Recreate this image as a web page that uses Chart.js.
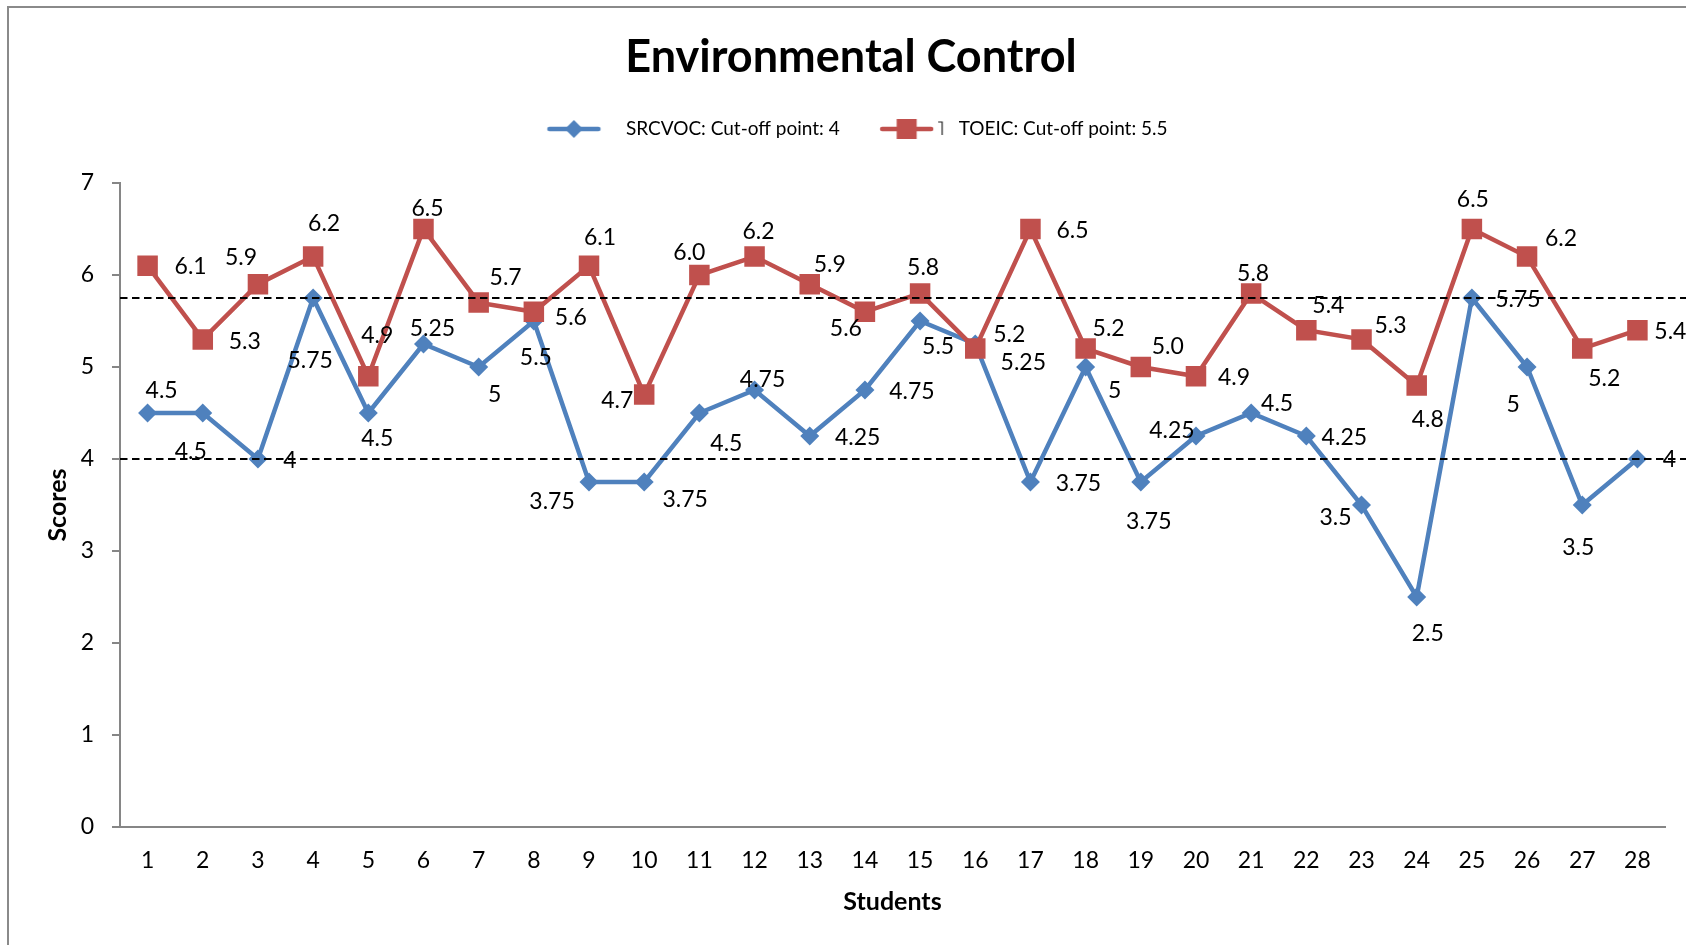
<!DOCTYPE html>
<html>
<head>
<meta charset="utf-8">
<title>Environmental Control</title>
<script src="https://cdn.jsdelivr.net/npm/chart.js@4.4.0/dist/chart.umd.min.js"></script>
<style>
  html, body { margin: 0; padding: 0; background: #fff; }
</style>
</head>
<body>
<canvas id="myChart" width="1686" height="945"></canvas>
<script>
// students 1..28 on the x axis
const students = ['1','2','3','4','5','6','7','8','9','10','11','12','13','14','15','16','17','18','19','20','21','22','23','24','25','26','27','28'];

// scores
const srcvocScores = [4.5, 4.5, 4, 5.75, 4.5, 5.25, 5, 5.5, 3.75, 3.75, 4.5, 4.75, 4.25, 4.75, 5.5, 5.25, 3.75, 5, 3.75, 4.25, 4.5, 4.25, 3.5, 2.5, 5.75, 5, 3.5, 4];
const toeicScores = [6.1, 5.3, 5.9, 6.2, 4.9, 6.5, 5.7, 5.6, 6.1, 4.7, 6.0, 6.2, 5.9, 5.6, 5.8, 5.2, 6.5, 5.2, 5.0, 4.9, 5.8, 5.4, 5.3, 4.8, 6.5, 6.2, 5.2, 5.4];

const seriesNames = ['SRCVOC: Cut-off point: 4', 'TOEIC: Cut-off point: 5.5'];
const yTicks = [0, 1, 2, 3, 4, 5, 6, 7];
// the two dashed reference lines
const cutoffLines = [5.75, 4];

// where each value label sits relative to its point (px), like the excel file
const srcvocLabelNudge = [[14,-22],[-12,39],[32,2],[-3,63],[9,26],[9,-15],[16,28],[2,37],[-37,20],[41,18],
  [27,31],[8,-10],[48,2],[47,2],[18,26],[48,19],[48,2],[29,24],[8,40],[-24,-5],
  [26,-9],[38,2],[-26,13],[11,37],[46,2],[-14,38],[-4,43],[32,1]];
const toeicLabelNudge = [[43,1],[42,2],[-17,-27],[11,-33],[9,-41],[4,-20],[27,-25],[37,6],[11,-28],[-27,6],
  [-10,-22],[4,-25],[20,-20],[-19,17],[3,-26],[34,-14],[42,2],[23,-20],[27,-20],[38,1],
  [2,-20],[22,-25],[29,-14],[11,34],[1,-29],[34,-18],[22,30],[33,1]];

const blue = '#4F81BD';
const red = '#C0504D';
const FONT = "Lato, 'Open Sans', sans-serif";

Chart.defaults.font.family = FONT;

// little line+marker picture for the legend
function legendSymbol(color, style) {
  const c = document.createElement('canvas');
  c.width = 82; c.height = 26;
  const g = c.getContext('2d');
  g.strokeStyle = color;
  g.fillStyle = color;
  g.lineWidth = 4.5;
  g.lineCap = 'round';
  g.beginPath();
  g.moveTo(15, 13);
  g.lineTo(64, 13);
  g.stroke();
  g.beginPath();
  if (style == 'rectRot') {
    g.moveTo(39.5, 4); g.lineTo(48.5, 13); g.lineTo(39.5, 22); g.lineTo(30.5, 13);
    g.closePath();
    g.fill();
  } else {
    g.fillRect(29.5, 3, 20, 20);
    // the small stray mark next to the red key
    g.strokeStyle = '#222';
    g.lineWidth = 1.2;
    g.lineCap = 'butt';
    g.beginPath();
    g.moveTo(71, 6); g.lineTo(75, 6); g.lineTo(75, 19);
    g.stroke();
  }
  return c;
}

const pageFrame = {
  id: 'pageFrame',
  beforeDraw(chart) {
    const ctx = chart.ctx;
    ctx.save();
    ctx.fillStyle = '#fff';
    ctx.fillRect(0, 0, chart.width, chart.height);
    ctx.strokeStyle = '#8a8a8a';
    ctx.lineWidth = 2;
    ctx.beginPath();
    ctx.moveTo(8, chart.height);
    ctx.lineTo(8, 7);
    ctx.lineTo(chart.width, 7);
    ctx.stroke();
    ctx.restore();
  }
};

const pointLabels = {
  id: 'pointLabels',
  afterDatasetsDraw(chart) {
    const ctx = chart.ctx;
    ctx.save();
    ctx.font = '23px ' + FONT;
    ctx.fillStyle = '#000';
    ctx.textAlign = 'center';
    ctx.textBaseline = 'middle';
    chart.data.datasets.forEach((ds, i) => {
      const meta = chart.getDatasetMeta(i);
      meta.data.forEach((pt, j) => {
        const n = ds.labelNudge[j];
        ctx.fillText(ds.labelText(ds.data[j]), pt.x + n[0], pt.y + n[1]);
      });
    });
    ctx.restore();
  }
};

const cutoffDashes = {
  id: 'cutoffDashes',
  afterDraw(chart) {
    const ctx = chart.ctx;
    const y = chart.scales.y;
    ctx.save();
    ctx.strokeStyle = '#000';
    ctx.lineWidth = 2;
    ctx.setLineDash([7.5, 4.5]);
    cutoffLines.forEach(v => {
      const py = Math.round(y.getPixelForValue(v));
      ctx.beginPath();
      ctx.moveTo(chart.chartArea.left, py);
      ctx.lineTo(chart.width, py);
      ctx.stroke();
    });
    ctx.restore();
  }
};

const ctx = document.getElementById('myChart');

new Chart(ctx, {
  type: 'line',
  data: {
    labels: students,
    datasets: [
      {
        label: seriesNames[0],
        data: srcvocScores,
        borderColor: blue,
        backgroundColor: blue,
        borderWidth: 4.5,
        pointStyle: 'rectRot',
        pointRadius: 9.5,
        pointBorderWidth: 0,
        tension: 0,
        order: 2,
        labelNudge: srcvocLabelNudge,
        labelText: v => String(v)
      },
      {
        label: seriesNames[1],
        data: toeicScores,
        borderColor: red,
        backgroundColor: red,
        borderWidth: 4.5,
        pointStyle: 'rect',
        pointRadius: 14.5,
        pointBorderWidth: 0,
        tension: 0,
        order: 1,
        labelNudge: toeicLabelNudge,
        labelText: v => v.toFixed(1)
      }
    ]
  },
  options: {
    responsive: false,
    animation: false,
    layout: { padding: { left: 37, right: 21, top: 0, bottom: 0 } },
    plugins: {
      title: {
        display: true,
        text: 'Environmental Control',
        color: '#000',
        font: { size: 45, weight: 'bold' },
        padding: { top: 30, bottom: 8 }
      },
      legend: {
        display: true,
        position: 'top',
        labels: {
          usePointStyle: true,
          pointStyleWidth: 82,
          padding: 27.5,
          color: '#000',
          font: { size: 19 },
          generateLabels: () => [
            { text: seriesNames[0], pointStyle: legendSymbol(blue, 'rectRot'), fillStyle: blue, strokeStyle: blue, lineWidth: 0, hidden: false, datasetIndex: 0, fontColor: '#000' },
            { text: seriesNames[1], pointStyle: legendSymbol(red, 'rect'), fillStyle: red, strokeStyle: red, lineWidth: 0, hidden: false, datasetIndex: 1, fontColor: '#000' }
          ]
        }
      },
      // empty spacer between the legend and the plot
      subtitle: {
        display: true,
        text: '',
        weight: 500,
        font: { size: 10 },
        padding: { top: 0, bottom: 22.5 }
      },
      tooltip: { enabled: false }
    },
    scales: {
      x: {
        offset: true,
        grid: { display: false, drawTicks: false },
        border: { display: true, color: '#868686', width: 2 },
        ticks: { color: '#000', font: { size: 23 }, padding: 20, maxRotation: 0, autoSkip: false },
        title: {
          display: true,
          text: 'Students',
          color: '#000',
          font: { size: 25, weight: 'bold' },
          padding: { top: 0, bottom: 28 }
        },
        afterFit: (s) => { s.height = 118; }
      },
      y: {
        min: 0,
        max: 7,
        afterBuildTicks: (s) => { s.ticks = yTicks.map(v => ({ value: v })); },
        ticks: { color: '#000', font: { size: 23 }, padding: 18 },
        grid: { display: true, drawOnChartArea: false, drawTicks: true, tickLength: 8, color: '#868686', lineWidth: 2 },
        border: { color: '#868686', width: 2 },
        title: {
          display: true,
          text: 'Scores',
          color: '#000',
          font: { size: 25, weight: 'bold' },
          padding: { top: 6, bottom: 0 }
        },
        afterFit: (s) => { s.width = 83; }
      }
    }
  },
  plugins: [pageFrame, pointLabels, cutoffDashes]
});
</script>
</body>
</html>
